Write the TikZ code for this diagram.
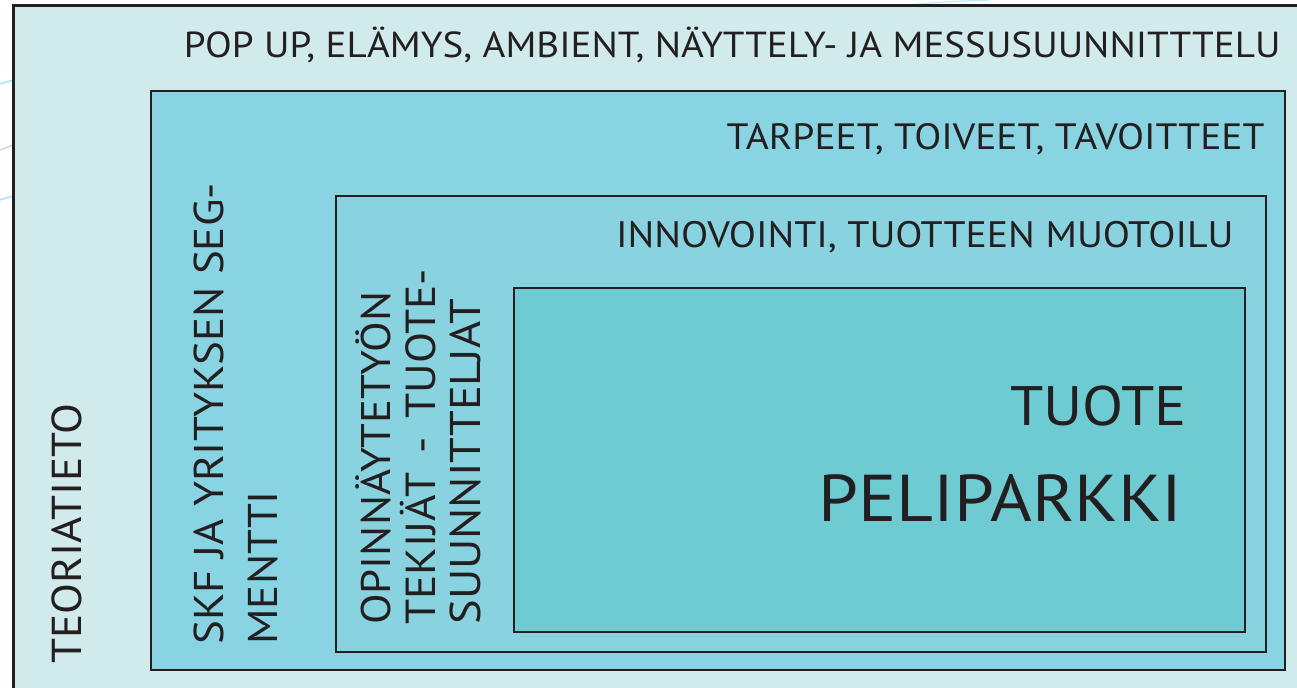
\documentclass[tikz,border=0pt]{standalone}
\usepackage{fontspec}
\setmainfont{PT Sans}[FakeStretch=1.08]
\definecolor{viiva}{HTML}{231F20}
\definecolor{teoria}{HTML}{D1EAEB}
\definecolor{skf}{HTML}{88D4E2}
\definecolor{opin}{HTML}{88D3DF}
\definecolor{tuote}{HTML}{6ECBD2}
\tikzset{
  kehys/.style={draw=viiva, line width=1pt},
  teksti/.style={inner sep=0pt, text=viiva},
  oikea/.style={teksti, anchor=base east},
  pysty/.style={teksti, rotate=90, anchor=base west, font=\fontsize{21}{24}\selectfont},
}

\begin{document}
\begin{tikzpicture}[x=0.5pt,y=-0.5pt]
\clip (0,0) rectangle (1297,688);
\fill[white] (0,0) rectangle (1297,688);
% taustan haaleat viivat
\draw[cyan!40, line width=0.6pt] (0,84) .. controls (6,82) .. (13,80);
\draw[violet!25, line width=0.6pt] (0,150) .. controls (6,147) .. (13,145);
\draw[cyan!40, line width=0.6pt] (0,200) .. controls (6,198) .. (13,196);
\draw[cyan!25, line width=0.6pt] (900,6) .. controls (940,2) .. (990,0);
% laatikot
\draw[kehys, line width=1.5pt, fill=teoria] (13,6) rectangle (1330,720);
\draw[kehys, fill=skf] (151,91) rectangle (1285,670);
\draw[kehys, fill=opin] (336,196) rectangle (1266,652);
\draw[kehys, fill=tuote] (514,288) rectangle (1245,632);
% tekstit
\node[oikea, font=\fontsize{18.1}{22}\selectfont] (popup) at (1281,58)
  {POP UP, EL\"AMYS, AMBIENT, N\"AYTTELY- JA MESSUSUUNNITTTELU};
\node[oikea, font=\fontsize{18.3}{22}\selectfont] (tarpeet) at (1265,150)
  {TARPEET, TOIVEET, TAVOITTEET};
\node[oikea, font=\fontsize{18.4}{22}\selectfont] (innovointi) at (1234,248)
  {INNOVOINTI, TUOTTEEN MUOTOILU};
\node[oikea, font=\fontsize{27.8}{32}\selectfont] (tuote) at (1187,426) {TUOTE};
\node[oikea, font=\fontsize{33.1}{38}\selectfont] (peliparkki) at (1183,522) {PELIPARKKI};
\node[pysty, font=\fontsize{20.9}{24}\selectfont] (teoriatieto) at (82,664) {TEORIATIETO};
\node[pysty, font=\fontsize{20.8}{24}\selectfont] (skf1) at (223,645) {SKF JA YRITYKSEN SEG-};
\node[pysty, font=\fontsize{20.8}{24}\selectfont] (skf2) at (277,645) {MENTTI};
\node[pysty, font=\fontsize{20.7}{24}\selectfont] (opin1) at (390,625) {OPINN\"AYTETY\"ON};
\node[pysty] (opin2) at (435,625) {TEKIJ\"AT\hspace{0.45em}-\hspace{0.45em}TUOTE-};
\node[pysty, font=\fontsize{21.5}{24}\selectfont] (opin3) at (480,625) {SUUNNITTELJAT};
\end{tikzpicture}
\end{document}
